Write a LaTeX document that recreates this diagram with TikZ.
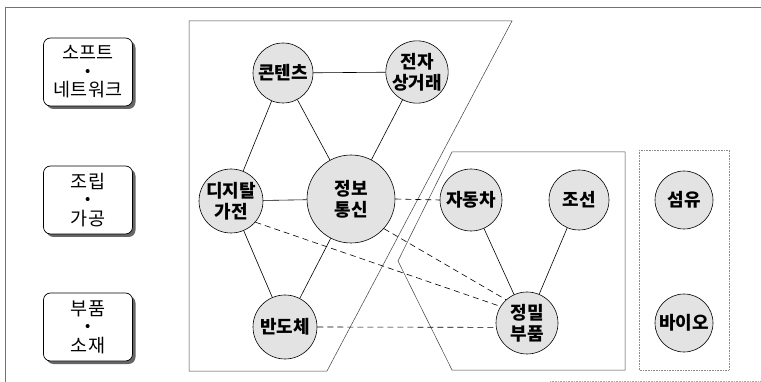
\documentclass[tikz,border=0pt]{standalone}
\usepackage{fontspec}
\newfontfamily\kr{Noto Sans CJK KR}
\usetikzlibrary{shadows}
\newcommand{\mdot}{{\bfseries ·}}
\begin{document}
\begin{tikzpicture}[x=1pt,y=-1pt,
  bub/.style={circle,draw=black,line width=0.6pt,fill=black!11,inner sep=0pt,align=center,
    font=\kr\bfseries\fontsize{18}{21}\selectfont},
  sector/.style={draw=black!75,line width=0.5pt},
  frame/.style={draw=black!55,line width=0.6pt},
  lnk/.style={draw=black,line width=0.6pt},
  dlnk/.style={draw=black,line width=0.6pt,dash pattern=on 6pt off 4pt},
  catbox/.style={draw=black,line width=0.7pt,fill=white,rounded corners=7pt,
    minimum width=89pt,minimum height=68pt,align=center,inner sep=0pt,
    font=\kr\fontsize{18.5}{18.5}\selectfont,
    drop shadow={shadow xshift=3pt,shadow yshift=-3pt,fill=black!60,opacity=1}},
  ]
\useasboundingbox (0,0) rectangle (761,382);
% outer frame
\draw[frame] (761,7) -- (5,7) -- (5,382);
\draw[draw=black!35,line width=0.6pt,densely dotted] (550,381) -- (761,381);
% sector outlines
\draw[sector] (189,21) -- (512,21) -- (327,371) -- (189,371) -- cycle;
\draw[sector] (452,152) -- (625,152) -- (625,370) -- (452,370) -- (398,261) -- cycle;
\draw[draw=black!45,line width=0.6pt,densely dotted] (639,150) rectangle (729,370);
% category boxes
\node[catbox] (sw) at (88,72) {소프트\\\mdot\\네트워크};
\node[catbox] (asm) at (88,200) {조립\\\mdot\\가공};
\node[catbox] (mat) at (88,327) {부품\\\mdot\\소재};
% bubbles
\node[bub,minimum size=60pt] (ct) at (283,73) {콘텐츠};
\node[bub,minimum size=62pt] (ec) at (417,72) {전자\\상거래};
\node[bub,minimum size=88pt] (it) at (351,199) {정보\\통신};
\node[bub,minimum size=64pt] (dg) at (231,201) {디지탈\\가전};
\node[bub,minimum size=64pt] (sc) at (285,327) {반도체};
\node[bub,minimum size=62pt] (car) at (471,200) {자동차};
\node[bub,minimum size=60pt] (ship) at (579,200) {조선};
\node[bub,minimum size=58pt] (fib) at (684,200) {섬유};
\node[bub,minimum size=58pt] (bio) at (684,323) {바이오};
\node[bub,minimum size=62pt] (jm) at (527,323) {정밀\\부품};
% solid links
\draw[lnk] (ct) -- (ec);
\draw[lnk] (ct) -- (dg);
\draw[lnk] (ct) -- (it);
\draw[lnk] (ec) -- (it);
\draw[lnk] (dg) -- (it);
\draw[lnk] (dg) -- (sc);
\draw[lnk] (it) -- (sc);
\draw[lnk] (car) -- (jm);
\draw[lnk] (ship) -- (jm);
% dashed links
\draw[dlnk] (it.east) -- (car.west);
\draw[dlnk] (dg.-41) -- (jm.148);
\draw[dlnk] (it.-42) -- (jm.132);
\draw[dlnk] (sc.0) -- (jm.188);
\end{tikzpicture}
\end{document}
